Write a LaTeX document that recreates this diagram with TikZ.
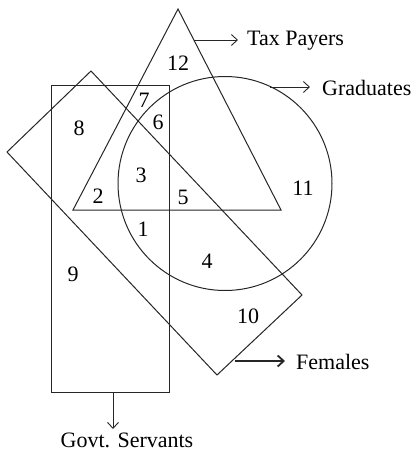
\documentclass[tikz,border=0pt]{standalone}
\usepackage{fontspec}
\setmainfont{Liberation Serif}
\usetikzlibrary{arrows.meta}
\begin{document}
\begin{tikzpicture}[x=1pt,y=-1pt,
  outl/.style={draw=black!85,line width=1pt},
  lab/.style={font=\fontsize{22}{26}\selectfont,inner sep=0pt},
  num/.style={font=\fontsize{22}{26}\selectfont,inner sep=0pt},
  ptr/.style={draw=black!85,line width=0.9pt,-{Straight Barb[length=6pt,width=11pt]}},
  ptrb/.style={draw=black!85,line width=1.8pt,-{Straight Barb[length=6pt,width=11pt]}}]
\useasboundingbox (0,0) rectangle (417,453);
% Govt. Servants rectangle
\draw[outl] (51,85) rectangle (169,392);
% Tax Payers triangle
\draw[outl] (178,9) -- (281,210) -- (73,210) -- cycle;
% Graduates circle
\draw[outl] (225,183.5) circle (107);
% Females rotated rectangle
\draw[outl] (91,71) -- (302,295) -- (217,375) -- (7,152) -- cycle;
% numbers
\node[num] (n12) at (178,63) {12};
\node[num] (n7) at (144,100) {7};
\node[num] (n6) at (158,122) {6};
\node[num] (n8) at (79,128) {8};
\node[num] (n3) at (141,175) {3};
\node[num] (n2) at (98,196) {2};
\node[num] (n5) at (183,197) {5};
\node[num] (n11) at (303,188) {11};
\node[num] (n1) at (143,229) {1};
\node[num] (n4) at (207,261) {4};
\node[num] (n9) at (73,274) {9};
\node[num] (n10) at (248,316) {10};
% labels
\coordinate (tp) at (194,40);
\coordinate (tpe) at (238,40);
\coordinate (gr) at (270,87);
\coordinate (gre) at (310,87);
\coordinate (fe) at (235,361);
\coordinate (fee) at (285,361);
\coordinate (gs) at (113,392);
\coordinate (gse) at (113,429);
\node[lab,anchor=west] (ltp) at (247,41) {Tax Payers};
\node[lab,anchor=west] (lgr) at (322,88) {Graduates};
\node[lab,anchor=west] (lfe) at (296,362) {Females};
\node[lab,anchor=north] (lgs) at (127,433) {Govt. Servants};
\draw[ptr] (tp) -- (tpe);
\draw[ptr] (gr) -- (gre);
\draw[ptrb] (fe) -- (fee);
\draw[ptr] (gs) -- (gse);
\end{tikzpicture}
\end{document}
